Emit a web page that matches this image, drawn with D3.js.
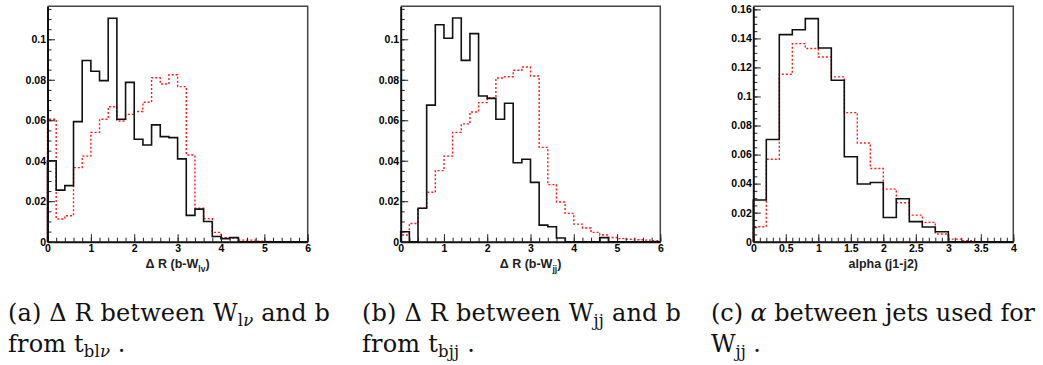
<!DOCTYPE html>
<html>
<head>
<meta charset="utf-8">
<script src="https://cdn.jsdelivr.net/npm/d3@7"></script>
<style>
  html, body { margin: 0; padding: 0; background: #fff; }
  svg { display: block; }
  .tick text { font-family: "Liberation Sans", Arial, Helvetica, sans-serif; font-weight: bold; font-size: 10.5px; fill: #000; }
</style>
</head>
<body>
<svg id="chart" width="1043" height="365"></svg>
<script>
// ---------------- data ----------------
// Panel (a): ΔR between W_lν and b, 30 bins of width 0.2 on [0,6]
const binsA = d3.range(0, 30).map(i => +(i * 0.2).toFixed(1));
const blackA = [0.040, 0.0255, 0.0277, 0.0593, 0.0895, 0.0842, 0.0796, 0.1104, 0.0605, 0.0787,
                0.0506, 0.0478, 0.0577, 0.0519, 0.0514, 0.0409, 0.0130, 0.0161, 0.0100, 0.0026,
                0.0015, 0.0020, 0, 0, 0, 0, 0, 0, 0, 0];
const redA   = [0.0605, 0.0112, 0.0128, 0.0366, 0.0423, 0.0540, 0.0605, 0.0667, 0.0596, 0.0629,
                0.0643, 0.0689, 0.0810, 0.0779, 0.0825, 0.0766, 0.0428, 0.0166, 0.0114, 0.0046,
                0.0020, 0.0018, 0.0008, 0.0008, 0.0003, 0.0001, 0, 0, 0, 0];
// Panel (b): ΔR between W_jj and b
const binsB = d3.range(0, 30).map(i => +(i * 0.2).toFixed(1));
const blackB = [0.0049, 0, 0.0165, 0.0675, 0.1072, 0.1005, 0.1105, 0.0896, 0.1028, 0.0720,
                0.0708, 0.0605, 0.0684, 0.0390, 0.0407, 0.0293, 0.0082, 0.0074, 0.0018, 0,
                0, 0, 0, 0.0020, 0, 0, 0, 0, 0, 0];
const redB   = [0.0033, 0.0090, 0.0165, 0.0244, 0.0351, 0.0423, 0.0540, 0.0582, 0.0641, 0.0687,
                0.0712, 0.0809, 0.0815, 0.0847, 0.0863, 0.0819, 0.0466, 0.0282, 0.0196, 0.0140,
                0.0087, 0.0068, 0.0046, 0.0033, 0.0021, 0.0015, 0.0012, 0.0010, 0.0008, 0.0005];
// Panel (c): alpha between jets, 20 bins of width 0.2 on [0,4]
const binsC = d3.range(0, 20).map(i => +(i * 0.2).toFixed(1));
const blackC = [0.0287, 0.0704, 0.1426, 0.1460, 0.1536, 0.1334, 0.1112, 0.0585, 0.0397, 0.0408,
                0.0167, 0.0296, 0.0138, 0.0101, 0.0069, 0, 0, 0, 0, 0];
const redC   = [0.0103, 0.0568, 0.1153, 0.1364, 0.1330, 0.1272, 0.1135, 0.0889, 0.0680, 0.0504,
                0.0362, 0.0268, 0.0183, 0.0133, 0.0053, 0.0018, 0.0007, 0, 0, 0];

const binWidth = 0.2;
const ticksA_x = [0, 1, 2, 3, 4, 5, 6];
const ticksA_y = [0, 0.02, 0.04, 0.06, 0.08, 0.1];
const ticksC_x = [0, 0.5, 1, 1.5, 2, 2.5, 3, 3.5, 4];
const ticksC_y = [0, 0.02, 0.04, 0.06, 0.08, 0.1, 0.12, 0.14, 0.16];
const titlesX = ["Δ R (b-W", "Δ R (b-W", "alpha (j1-j2)"];
const titleSubs = ["lv", "jj", ""];

// ---------------- layout ----------------
const svg = d3.select("#chart");
svg.append("rect").attr("width", 1043).attr("height", 365).attr("fill", "#fff");

const panels = [
  { left: 47.5, right: 307.7, top: 6.3, bottom: 241.7, xDom: [0, 6], yMax: 0.1163,
    bins: binsA, black: blackA, red: redA, xt: ticksA_x, yt: ticksA_y, xMinor: 0.2, yMinor: 0.005,
    title: titlesX[0], sub: titleSubs[0], fmtX: d3.format("d") },
  { left: 400.7, right: 660.3, top: 6.3, bottom: 241.7, xDom: [0, 6], yMax: 0.1163,
    bins: binsB, black: blackB, red: redB, xt: ticksA_x, yt: ticksA_y, xMinor: 0.2, yMinor: 0.005,
    title: titlesX[1], sub: titleSubs[1], fmtX: d3.format("d") },
  { left: 753.3, right: 1013.3, top: 6.3, bottom: 241.7, xDom: [0, 4], yMax: 0.1621,
    bins: binsC, black: blackC, red: redC, xt: ticksC_x, yt: ticksC_y, xMinor: 0.1, yMinor: 0.005,
    title: titlesX[2], sub: titleSubs[2], fmtX: d => String(d) }
];

function stepPoints(bins, vals, x, y) {
  const pts = [[x(bins[0]), y(0)]];
  bins.forEach((b, i) => {
    pts.push([x(b), y(vals[i])]);
    pts.push([x(b + binWidth), y(vals[i])]);
  });
  pts.push([x(bins[bins.length - 1] + binWidth), y(0)]);
  return pts;
}

panels.forEach(p => {
  const x = d3.scaleLinear().domain(p.xDom).range([p.left, p.right]);
  const y = d3.scaleLinear().domain([0, p.yMax]).range([p.bottom, p.top]);
  const g = svg.append("g");

  g.append("path")
    .attr("d", `M${p.left},${p.top}H${p.right}V${p.bottom}`)
    .attr("fill", "none").attr("stroke", "#444").attr("stroke-width", 1.5);

  const line = d3.line();
  g.append("path").attr("d", line(stepPoints(p.bins, p.red, x, y)))
    .attr("fill", "none").attr("stroke", "#ff1a1a").attr("stroke-width", 1.4)
    .attr("stroke-dasharray", "2,2");
  g.append("path").attr("d", line(stepPoints(p.bins, p.black, x, y)))
    .attr("fill", "none").attr("stroke", "#111").attr("stroke-width", 1.6);

  const xMinorVals = d3.range(p.xDom[0], p.xDom[1] + 1e-9, p.xMinor);
  const yMinorVals = d3.range(0, p.yMax, p.yMinor);
  g.append("g").attr("transform", `translate(0,${p.bottom})`)
    .call(d3.axisBottom(x).tickValues(xMinorVals).tickSize(-4).tickFormat(""))
    .call(a => a.select(".domain").remove())
    .call(a => a.selectAll("line").attr("stroke", "#222").attr("stroke-width", 1));
  g.append("g").attr("transform", `translate(${p.left},0)`)
    .call(d3.axisLeft(y).tickValues(yMinorVals).tickSize(-4).tickFormat(""))
    .call(a => a.select(".domain").remove())
    .call(a => a.selectAll("line").attr("stroke", "#222").attr("stroke-width", 1));

  const xa = g.append("g").attr("transform", `translate(0,${p.bottom})`)
    .call(d3.axisBottom(x).tickValues(p.xt).tickSizeInner(-7.5).tickSizeOuter(0).tickPadding(3).tickFormat(p.fmtX));
  xa.select(".domain").attr("stroke", "#111").attr("stroke-width", 2);
  xa.selectAll("line").attr("stroke", "#222").attr("stroke-width", 1);
  xa.selectAll("text").attr("y", 2.5).attr("dy", "0.71em");

  const ya = g.append("g").attr("transform", `translate(${p.left},0)`)
    .call(d3.axisLeft(y).tickValues(p.yt).tickSizeInner(-7.5).tickSizeOuter(0).tickPadding(2)
      .tickFormat(d => d === 0 ? "0" : String(+d.toFixed(2))));
  ya.select(".domain").attr("stroke", "#111").attr("stroke-width", 2);
  ya.selectAll("line").attr("stroke", "#222").attr("stroke-width", 1);
  ya.selectAll("text").attr("x", -1.5);

  const t = g.append("text")
    .attr("x", (p.left + p.right) / 2).attr("y", 268)
    .attr("text-anchor", "middle")
    .attr("font-family", "Liberation Sans, Arial, sans-serif")
    .attr("font-weight", "bold").attr("font-size", 12.5).attr("fill", "#222");
  t.append("tspan").text(p.title);
  if (p.sub) {
    t.append("tspan").attr("font-size", 8.5).attr("dy", 4).text(p.sub);
    t.append("tspan").attr("dy", -4).text(")");
  }
});

// ---------------- captions ----------------
const capFont = "DejaVu Serif, serif";
const capSize = 24;
const subSize = 16.5;
const captions = [
  { x: 8, w: 322, l1: [["(a) Δ R between W", 0], ["l", 1], ["ν", 2], [" and b", 0]],
          l2: [["from t", 0], ["bl", 1], ["ν", 2], [" .", 0]] },
  { x: 362, w: 319, l1: [["(b) Δ R between W", 0], ["jj", 1], [" and b", 0]],
            l2: [["from t", 0], ["bjj", 1], [" .", 0]] },
  { x: 711, w: 324, l1: [["(c) ", 0], ["α", 3], [" between jets used for", 0]],
            l2: [["W", 0], ["jj", 1], [" .", 0]] }
];
function addLine(c, parts, yBase) {
  const t = svg.append("text").attr("x", c.x).attr("y", yBase)
    .attr("font-family", capFont).attr("font-size", capSize).attr("fill", "#111");
  let sub = false;
  parts.forEach(([s, kind]) => {
    const ts = t.append("tspan").text(s);
    const isSub = kind === 1 || kind === 2;
    if (isSub && !sub) { ts.attr("dy", 5).attr("font-size", subSize); }
    else if (isSub) { ts.attr("font-size", subSize); }
    else if (!isSub && sub) { ts.attr("dy", -5); }
    if (kind === 2 || kind === 3) ts.attr("font-style", "italic");
    sub = isSub;
  });
  return t;
}
captions.forEach(c => {
  const t1 = addLine(c, c.l1, 321);
  const t2 = addLine(c, c.l2, 352);
  const w = t1.node().getComputedTextLength();
  const n = c.l1.map(d => d[0]).join("").length;
  const ls = (c.w - w) / n;
  t1.attr("letter-spacing", ls);
  t2.attr("letter-spacing", ls);
});
</script>
</body>
</html>
